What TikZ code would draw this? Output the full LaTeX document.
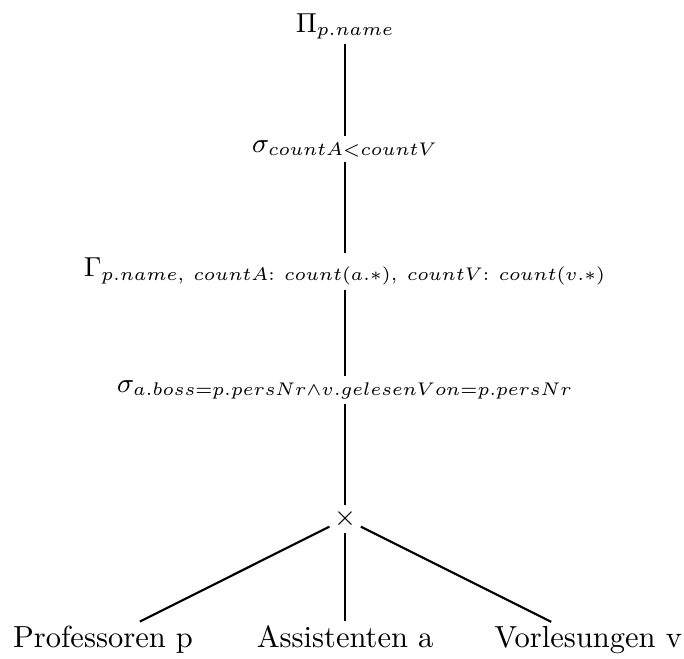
\documentclass[tikz,border=0pt]{standalone}
\usepackage{tikz}
\usetikzlibrary{calc}

\tikzset{op/.style={inner sep=1.2pt, font=\small}, rel/.style={inner sep=1.2pt, anchor=base}}

\begin{document}
\begin{tikzpicture}[line width=0.7pt]
		%%%%% START %%%%%
		\useasboundingbox (0, 0) rectangle (7.88, 7.59);
		
		\node[op] (proj) at (3.976, 7.283) {$\Pi_{p.name}$};
		\node[op] (selcnt) at (3.976, 5.877) {$\sigma_{countA<countV}$};
		\node[op] (group) at (3.976, 4.464) {$\Gamma_{p.name,\ countA{:}\ count(a.*),\ countV{:}\ count(v.*)}$};
		\node[op] (seljoin) at (3.976, 3.100) {$\sigma_{a.boss=p.persNr\wedge v.gelesenVon=p.persNr}$};
		\node[op] (cross) at (3.976, 1.613) {$\times$};
		
		\node[rel] (prof) at (1.187, 0.127) {Professoren p};
		\node[rel] (assi) at (3.976, 0.127) {Assistenten a};
		\node[rel] (vorl) at (6.776, 0.127) {Vorlesungen v};
		
		\draw (proj) -- (selcnt);
		\draw (selcnt) -- (group);
		\draw (group) -- (seljoin);
		\draw (seljoin) -- (cross);
		
		\draw (cross) -- (prof);
		\draw (cross) -- (assi);
		\draw (cross) -- (vorl);
		%%%%% END %%%%%
\end{tikzpicture}
\end{document}
